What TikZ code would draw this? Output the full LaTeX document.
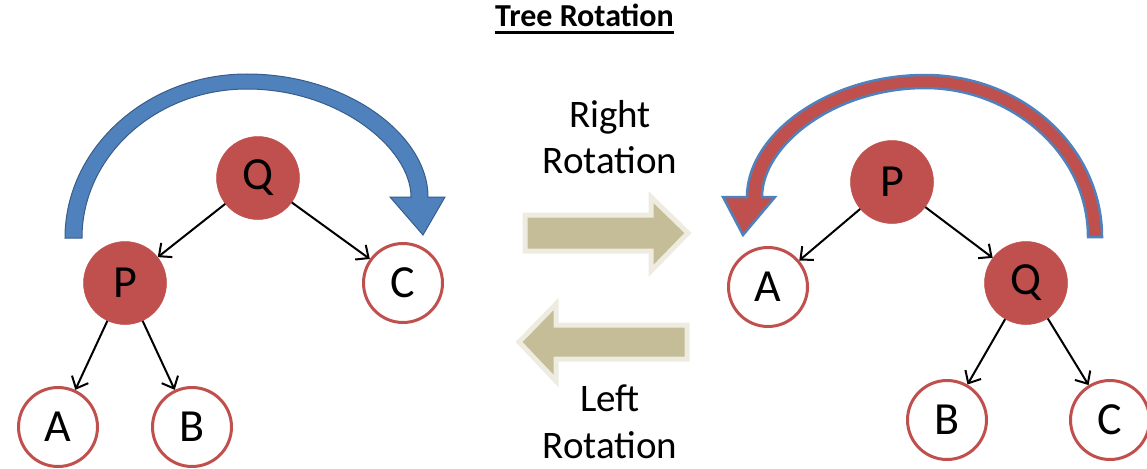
\documentclass[tikz,border=0pt]{standalone}
\usepackage{fontspec}
\setmainfont{Carlito}
\usetikzlibrary{arrows.meta}
\definecolor{nred}{HTML}{C0504D}
\definecolor{nblue}{HTML}{4F81BD}
\definecolor{dblue}{HTML}{385D8A}
\definecolor{tan}{HTML}{C4BD97}
\definecolor{lightrim}{HTML}{EEECE1}
\tikzset{
  filled/.style={circle, fill=nred, draw=nred, line width=0.5pt, minimum size=83pt, inner sep=0pt, font=\fontsize{46}{54}\selectfont},
  hollow/.style={circle, fill=white, draw=nred, line width=3pt, minimum size=79pt, inner sep=0pt, font=\fontsize{46}{54}\selectfont},
  edge/.style={line width=2pt, -{Straight Barb[length=10pt,width=18pt,line width=2pt]}},
  block/.style={fill=tan, draw=lightrim, line width=5pt, line join=miter},
  lbl/.style={anchor=base, inner sep=0pt, font=\fontsize{39}{46}\selectfont}
}
\begin{document}
\begin{tikzpicture}[x=1pt, y=-1pt]
\useasboundingbox (0,0) rectangle (1147,468);
% title
\node[anchor=base, inner sep=0pt, font=\fontsize{32}{38}\selectfont\bfseries] (title) at (584.5,27) {Tree Rotation};
\draw[line width=3pt] ([yshift=-6pt]title.base west) -- ([yshift=-6pt]title.base east);

% left curved blue arrow
\draw[fill=nblue, draw=dblue, line width=1pt, line join=miter]
  (65,238) .. controls (65,148) and (147,74) .. (247,74)
  .. controls (347,74) and (428,135) .. (428,197)
  -- (445,197) -- (423,235) -- (390,197) -- (411,197)
  .. controls (411,148) and (338,89) .. (247,89)
  .. controls (156,89) and (82,156) .. (82,238) -- cycle;

% right curved red arrow
\draw[fill=nred, draw=nblue, line width=2.5pt, line join=miter]
  (1102,237) .. controls (1102,148) and (1023,75) .. (925,75)
  .. controls (827,75) and (747,135) .. (747,197)
  -- (723,197) -- (743,235) -- (775,197) -- (762,197)
  .. controls (762,145) and (835,88) .. (925,88)
  .. controls (1010,88) and (1088,152) .. (1088,237) -- cycle;

% left tree
\node[filled] (lQ) at (258,178) {Q};
\node[filled] (lP) at (125,283) {P};
\node[hollow] (lC) at (403,283) {C};
\node[hollow] (lA) at (58,427) {A};
\node[hollow] (lB) at (192,427) {B};
\draw[edge] (lQ) -- (lP);
\draw[edge] (lQ) -- (lC);
\draw[edge] (lP) -- (lA);
\draw[edge] (lP) -- (lB);

% right tree
\node[filled] (rP) at (892,182) {P};
\node[hollow] (rA) at (768,287) {A};
\node[filled] (rQ) at (1026,283) {Q};
\node[hollow] (rB) at (947,420) {B};
\node[hollow] (rC) at (1110,420) {C};
\draw[edge] (rP) -- (rA);
\draw[edge] (rP) -- (rQ);
\draw[edge] (rQ) -- (rB);
\draw[edge] (rQ) -- (rC);

% block arrows
\draw[block] (525,215) -- (651,215) -- (651,197) -- (688,233) -- (651,271) -- (651,251) -- (525,251) -- cycle;
\draw[block] (687,325) -- (556,325) -- (556,304) -- (519,342) -- (556,381) -- (556,359) -- (687,359) -- cycle;

% labels
\node[lbl] (rt1) at (610,127) {Right};
\node[lbl] (rt2) at (610,173) {Rotation};
\node[lbl] (lt1) at (610,411) {Left};
\node[lbl] (lt2) at (610,458) {Rotation};
\end{tikzpicture}
\end{document}
